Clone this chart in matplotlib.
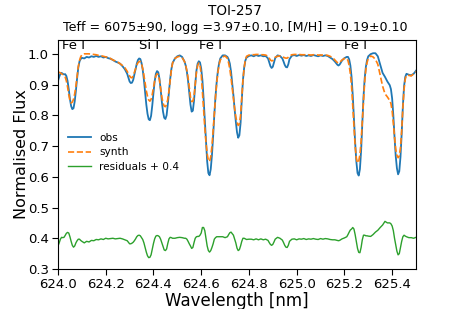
import matplotlib
matplotlib.use("Agg")
import matplotlib.pyplot as plt
import numpy as np

wavelength = [
    624.000, 624.005, 624.010, 624.015, 624.020, 624.025, 624.030, 624.035, 624.040, 624.045,
    624.050, 624.055, 624.060, 624.065, 624.070, 624.075, 624.080, 624.085, 624.090, 624.095,
    624.100, 624.110, 624.120, 624.130, 624.140, 624.150, 624.160, 624.170, 624.180, 624.190,
    624.200, 624.210, 624.220, 624.230, 624.240, 624.250, 624.260, 624.270, 624.280, 624.290,
    624.295, 624.300, 624.305, 624.310, 624.315, 624.320, 624.325, 624.330, 624.335, 624.340,
    624.345, 624.350, 624.355, 624.360, 624.365, 624.370, 624.375, 624.380, 624.385, 624.390,
    624.395, 624.400, 624.405, 624.410, 624.415, 624.420, 624.425, 624.430, 624.435, 624.440,
    624.445, 624.450, 624.455, 624.460, 624.465, 624.470, 624.475, 624.480, 624.490, 624.500,
    624.510, 624.520, 624.530, 624.535, 624.540, 624.545, 624.550, 624.555, 624.560, 624.565,
    624.570, 624.575, 624.580, 624.585, 624.590, 624.595, 624.600, 624.605, 624.610, 624.615,
    624.620, 624.625, 624.630, 624.635, 624.640, 624.645, 624.650, 624.655, 624.660, 624.665,
    624.670, 624.675, 624.680, 624.690, 624.700, 624.710, 624.715, 624.720, 624.725, 624.730,
    624.735, 624.740, 624.745, 624.750, 624.755, 624.760, 624.765, 624.770, 624.775, 624.780,
    624.785, 624.790, 624.800, 624.810, 624.820, 624.830, 624.840, 624.850, 624.860, 624.870,
    624.880, 624.885, 624.890, 624.895, 624.900, 624.905, 624.910, 624.920, 624.930, 624.940,
    624.945, 624.950, 624.955, 624.960, 624.965, 624.970, 624.980, 624.990, 625.000, 625.010,
    625.020, 625.030, 625.040, 625.050, 625.060, 625.070, 625.080, 625.090, 625.100, 625.110,
    625.120, 625.130, 625.140, 625.150, 625.160, 625.170, 625.175, 625.180, 625.190, 625.200,
    625.210, 625.215, 625.220, 625.225, 625.230, 625.235, 625.240, 625.245, 625.250, 625.255,
    625.260, 625.265, 625.270, 625.275, 625.280, 625.285, 625.290, 625.295, 625.300, 625.310,
    625.320, 625.330, 625.340, 625.350, 625.360, 625.370, 625.380, 625.390, 625.395, 625.400,
    625.405, 625.410, 625.415, 625.420, 625.425, 625.430, 625.435, 625.440, 625.445, 625.450,
    625.455, 625.460, 625.470, 625.480, 625.490, 625.500,
]

obs_flux = [
    0.912, 0.925, 0.935, 0.938, 0.935, 0.933, 0.934, 0.928, 0.912, 0.885,
    0.853, 0.830, 0.820, 0.823, 0.845, 0.880, 0.920, 0.955, 0.975, 0.983,
    0.987, 0.985, 0.990, 0.988, 0.992, 0.990, 0.993, 0.990, 0.992, 0.988,
    0.990, 0.986, 0.984, 0.980, 0.975, 0.972, 0.968, 0.960, 0.950, 0.935,
    0.922, 0.910, 0.905, 0.906, 0.915, 0.932, 0.950, 0.968, 0.980, 0.985,
    0.983, 0.970, 0.948, 0.915, 0.875, 0.835, 0.805, 0.787, 0.784, 0.798,
    0.832, 0.873, 0.910, 0.935, 0.944, 0.940, 0.920, 0.885, 0.845, 0.812,
    0.792, 0.788, 0.800, 0.835, 0.878, 0.918, 0.950, 0.970, 0.985, 0.992,
    0.995, 0.990, 0.975, 0.962, 0.942, 0.912, 0.872, 0.835, 0.812, 0.815,
    0.848, 0.900, 0.945, 0.968, 0.976, 0.972, 0.952, 0.915, 0.855, 0.785,
    0.712, 0.650, 0.612, 0.605, 0.625, 0.670, 0.732, 0.802, 0.862, 0.910,
    0.945, 0.970, 0.985, 0.995, 0.995, 0.990, 0.982, 0.968, 0.942, 0.905,
    0.865, 0.820, 0.780, 0.745, 0.727, 0.735, 0.775, 0.850, 0.915, 0.955,
    0.978, 0.988, 0.993, 0.995, 0.992, 0.996, 0.993, 0.995, 0.992, 0.993,
    0.985, 0.972, 0.960, 0.954, 0.958, 0.972, 0.986, 0.995, 0.993, 0.985,
    0.975, 0.964, 0.957, 0.956, 0.966, 0.983, 0.994, 0.996, 0.993, 0.996,
    0.994, 0.996, 0.993, 0.995, 0.993, 0.996, 0.994, 0.992, 0.995, 0.993,
    0.995, 0.993, 0.988, 0.983, 0.975, 0.965, 0.962, 0.965, 0.978, 0.986,
    0.990, 0.990, 0.982, 0.962, 0.925, 0.865, 0.790, 0.712, 0.650, 0.612,
    0.604, 0.625, 0.685, 0.775, 0.860, 0.920, 0.958, 0.980, 0.992, 0.999,
    1.002, 1.002, 0.992, 0.965, 0.938, 0.925, 0.910, 0.898, 0.885, 0.855,
    0.800, 0.730, 0.668, 0.628, 0.608, 0.618, 0.665, 0.740, 0.830, 0.895,
    0.925, 0.935, 0.932, 0.930, 0.935, 0.945,
]

synth_flux = [
    0.937, 0.940, 0.938, 0.935, 0.933, 0.930, 0.925, 0.912, 0.893, 0.868,
    0.848, 0.840, 0.843, 0.852, 0.870, 0.895, 0.928, 0.958, 0.978, 0.990,
    0.997, 1.000, 1.000, 1.000, 0.999, 0.998, 0.997, 0.995, 0.994, 0.992,
    0.990, 0.988, 0.985, 0.980, 0.977, 0.973, 0.968, 0.962, 0.955, 0.943,
    0.935, 0.928, 0.923, 0.922, 0.928, 0.940, 0.952, 0.963, 0.971, 0.975,
    0.975, 0.968, 0.952, 0.930, 0.905, 0.880, 0.862, 0.850, 0.846, 0.852,
    0.868, 0.890, 0.912, 0.928, 0.935, 0.932, 0.915, 0.888, 0.860, 0.840,
    0.830, 0.828, 0.835, 0.852, 0.880, 0.915, 0.948, 0.970, 0.985, 0.990,
    0.992, 0.988, 0.975, 0.962, 0.945, 0.922, 0.890, 0.860, 0.845, 0.845,
    0.862, 0.900, 0.940, 0.962, 0.970, 0.962, 0.935, 0.880, 0.820, 0.760,
    0.712, 0.675, 0.652, 0.650, 0.665, 0.700, 0.750, 0.805, 0.860, 0.905,
    0.940, 0.965, 0.980, 0.990, 0.993, 0.985, 0.970, 0.950, 0.922, 0.890,
    0.855, 0.822, 0.795, 0.777, 0.767, 0.772, 0.800, 0.860, 0.915, 0.955,
    0.980, 0.992, 0.996, 0.998, 0.997, 0.998, 0.998, 0.997, 0.997, 0.996,
    0.992, 0.986, 0.980, 0.977, 0.978, 0.984, 0.989, 0.992, 0.993, 0.991,
    0.989, 0.987, 0.986, 0.986, 0.989, 0.993, 0.997, 0.998, 0.998, 0.998,
    0.997, 0.997, 0.997, 0.997, 0.996, 0.997, 0.997, 0.996, 0.996, 0.996,
    0.996, 0.995, 0.992, 0.988, 0.980, 0.972, 0.970, 0.972, 0.980, 0.985,
    0.985, 0.978, 0.962, 0.935, 0.895, 0.830, 0.760, 0.700, 0.660, 0.645,
    0.650, 0.672, 0.715, 0.780, 0.850, 0.910, 0.950, 0.972, 0.985, 0.993,
    0.990, 0.982, 0.966, 0.930, 0.895, 0.870, 0.860, 0.848, 0.838, 0.815,
    0.775, 0.730, 0.690, 0.670, 0.662, 0.668, 0.695, 0.750, 0.825, 0.885,
    0.918, 0.930, 0.930, 0.928, 0.935, 0.942,
]

residual_offset = 0.4

line_labels = ["Fe I", "Si I", "Fe I", "Fe I"]
line_label_wl = [624.063, 624.381, 624.640, 625.245]

xticks = [624.0, 624.2, 624.4, 624.6, 624.8, 625.0, 625.2, 625.4]
yticks = [0.3, 0.4, 0.5, 0.6, 0.7, 0.8, 0.9, 1.0]

title_line1 = "TOI-257"
title_line2 = "Teff = 6075±90, logg =3.97±0.10, [M/H] = 0.19±0.10"

wl = np.array(wavelength)
obs = np.array(obs_flux)
syn = np.array(synth_flux)
resid = obs - syn + residual_offset

W, H = 463, 309
fig = plt.figure(figsize=(W / 100, H / 100), dpi=100)
ax = fig.add_axes([58 / W, 1 - 269 / H, 358 / W, 229 / H])

ax.plot(wl, obs, color="#1f77b4", lw=1.3, label="obs")
ax.plot(wl, syn, color="#ff7f0e", lw=1.2, ls="--", label="synth")
ax.plot(wl, resid, color="#2ca02c", lw=1.0, label="residuals + 0.4")

ax.set_xlim(624.0, 625.5)
ax.set_ylim(0.3, 1.045)
ax.set_xticks(xticks)
ax.set_xticklabels([f"{t:.1f}" for t in xticks])
ax.set_yticks(yticks)
ax.set_yticklabels([f"{t:.1f}" for t in yticks])
ax.tick_params(labelsize=9.5, length=4.5, pad=2)

for lab, lw_ in zip(line_labels, line_label_wl):
    ax.text(lw_, 1.027, lab, ha="center", va="center", fontsize=9.5)

ax.set_xlabel("Wavelength [nm]", fontsize=12, labelpad=0.5)
ax.set_ylabel("Normalised Flux", fontsize=11.5, labelpad=-0.5)

fig.text(235 / W, 1 - 15 / H, title_line1, ha="center", va="baseline", fontsize=9.8)
fig.text(235 / W, 1 - 31 / H, title_line2, ha="center", va="baseline", fontsize=9.1)

ax.legend(loc="upper left", bbox_to_anchor=(0.0, 0.635), frameon=False,
          fontsize=7.6, handlelength=2.2, labelspacing=0.4)

fig.savefig("out.png", dpi=100)
